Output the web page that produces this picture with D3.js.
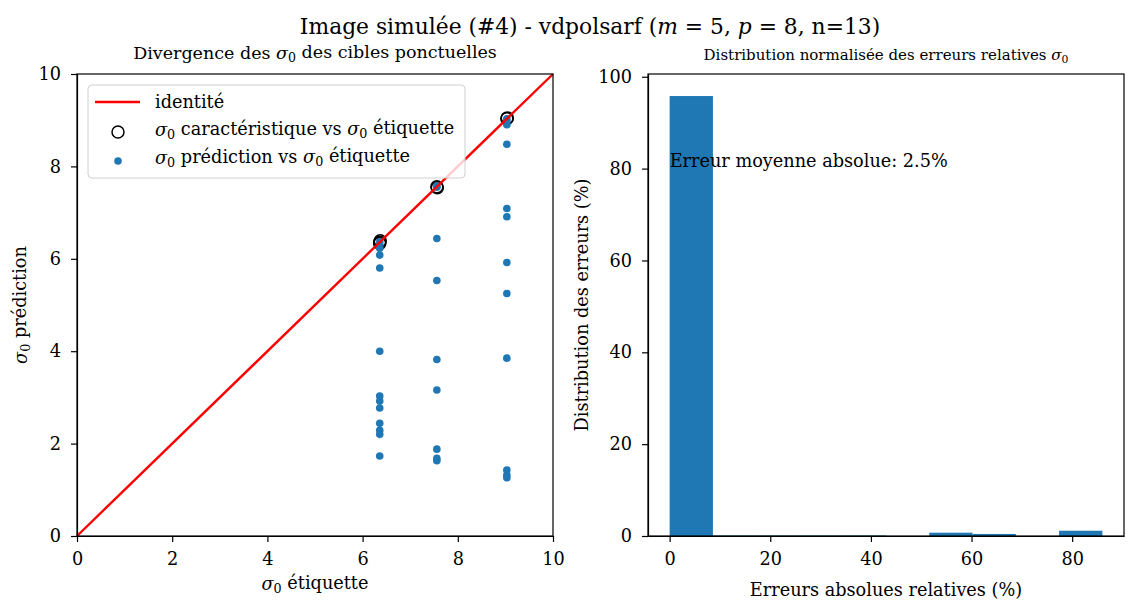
<!DOCTYPE html>
<html>
<head>
<meta charset="utf-8">
<script src="https://cdn.jsdelivr.net/npm/d3@7"></script>
<style>
  body { margin: 0; background: #fff; }
  text { font-family: "DejaVu Serif", "Liberation Serif", serif; fill: #000; }
</style>
</head>
<body>
<div id="chart"></div>
<script>
// donnees
var charX = [6.36, 6.36, 6.37, 7.56, 7.57, 9.03, 9.04];
var charY = [6.36, 6.33, 6.39, 7.56, 7.54, 9.03, 9.05];

var predX = [6.36, 6.36, 6.36, 6.36, 6.36, 6.36, 6.36, 6.36, 6.36, 6.36, 6.36, 6.36, 6.36,
             7.56, 7.56, 7.56, 7.56, 7.56, 7.56, 7.56, 7.56, 7.56,
             9.03, 9.03, 9.03, 9.03, 9.03, 9.03, 9.03, 9.03, 9.03, 9.03, 9.03, 9.03];
var predY = [6.37, 6.30, 6.23, 6.08, 5.80, 4.00, 3.03, 2.92, 2.77, 2.44, 2.29, 2.20, 1.73,
             7.55, 7.58, 6.44, 5.53, 3.82, 3.16, 1.88, 1.68, 1.63,
             9.03, 8.97, 8.90, 8.48, 7.09, 6.91, 5.92, 5.25, 3.85, 1.43, 1.32, 1.26];

var identity = [0, 10];

var binEdges = [0, 8.6, 17.2, 25.8, 34.4, 43, 51.6, 60.2, 68.8, 77.4, 86];
var binVals = [95.8, 0.1, 0.1, 0.1, 0.1, 0, 0.72, 0.45, 0, 1.15];

var leftTicks = [0, 2, 4, 6, 8, 10];
var rightXTicks = [0, 20, 40, 60, 80];
var rightYTicks = [0, 20, 40, 60, 80, 100];

var blue = "#1f77b4";
var fs = 17.7;

var svg = d3.select("#chart")
  .append("svg")
  .attr("width", 1142)
  .attr("height", 614);

// petit utilitaire pour ecrire sigma_0
function sigma(t, trail) {
  t.append("tspan").attr("font-style", "italic").text("σ");
  t.append("tspan").attr("font-size", "0.72em").attr("dy", "0.25em").text("0");
  t.append("tspan").attr("dy", "-0.25em").text(trail === false ? "" : "\u00a0");
}

// titre general
var sup = svg.append("text")
  .attr("x", 590)
  .attr("y", 34)
  .attr("text-anchor", "middle")
  .attr("font-size", 21.8);
sup.append("tspan").text("Image simulée (#4) - vdpolsarf (");
sup.append("tspan").attr("font-style", "italic").text("m");
sup.append("tspan").text(" = 5, ");
sup.append("tspan").attr("font-style", "italic").text("p");
sup.append("tspan").text(" = 8, n=13)");

//------------------ graphique de gauche
var L = { left: 77, right: 553, top: 74, bottom: 536 };

var xL = d3.scaleLinear().domain([0, 10]).range([L.left, L.right]);
var yL = d3.scaleLinear().domain([0, 10]).range([L.bottom, L.top]);

var gl = svg.append("g");

var t1 = gl.append("text")
  .attr("x", (L.left + L.right) / 2)
  .attr("y", 59)
  .attr("text-anchor", "middle")
  .attr("font-size", 17.5);
t1.append("tspan").text("Divergence des ");
sigma(t1);
t1.append("tspan").text("des cibles ponctuelles");

gl.selectAll("circle.char")
  .data(charX)
  .enter()
  .append("circle")
  .attr("class", "char")
  .attr("cx", function(d) { return xL(d); })
  .attr("cy", function(d, i) { return yL(charY[i]); })
  .attr("r", 6)
  .attr("fill", "none")
  .attr("stroke", "#000")
  .attr("stroke-width", 1.5);

gl.selectAll("circle.pred")
  .data(predX)
  .enter()
  .append("circle")
  .attr("class", "pred")
  .attr("cx", function(d) { return xL(d); })
  .attr("cy", function(d, i) { return yL(predY[i]); })
  .attr("r", 3.8)
  .attr("fill", blue);

gl.append("line")
  .attr("x1", xL(identity[0]))
  .attr("y1", yL(identity[0]))
  .attr("x2", xL(identity[1]))
  .attr("y2", yL(identity[1]))
  .attr("stroke", "red")
  .attr("stroke-width", 2.4);

gl.append("g")
  .attr("transform", "translate(0," + L.bottom + ")")
  .call(d3.axisBottom(xL).tickValues(leftTicks).tickSize(6).tickSizeOuter(0).tickPadding(10))
  .call(styleAxis);

gl.append("g")
  .attr("transform", "translate(" + L.left + ",0)")
  .call(d3.axisLeft(yL).tickValues(leftTicks).tickSize(6).tickSizeOuter(0).tickPadding(10))
  .call(styleAxis);

gl.append("rect")
  .attr("x", L.left).attr("y", L.top)
  .attr("width", L.right - L.left).attr("height", L.bottom - L.top)
  .attr("fill", "none").attr("stroke", "#000").attr("stroke-width", 1.2);

var xl1 = gl.append("text")
  .attr("x", (L.left + L.right) / 2)
  .attr("y", 590)
  .attr("text-anchor", "middle")
  .attr("font-size", fs);
sigma(xl1);
xl1.append("tspan").text("étiquette");

var yl1 = gl.append("text")
  .attr("transform", "translate(27," + ((L.top + L.bottom) / 2) + ") rotate(-90)")
  .attr("text-anchor", "middle")
  .attr("font-size", fs);
sigma(yl1);
yl1.append("tspan").text("prédiction");

// legende
var lg = gl.append("g").attr("transform", "translate(88,85)");
lg.append("rect")
  .attr("width", 377).attr("height", 93)
  .attr("rx", 4)
  .attr("fill", "rgba(255,255,255,0.8)")
  .attr("stroke", "#d0d0d0");
lg.append("line")
  .attr("x1", 7).attr("x2", 52).attr("y1", 17).attr("y2", 17)
  .attr("stroke", "red").attr("stroke-width", 2.4);
lg.append("text").attr("x", 67).attr("y", 23).attr("font-size", fs).text("identité");
lg.append("circle")
  .attr("cx", 30).attr("cy", 47).attr("r", 6)
  .attr("fill", "none").attr("stroke", "#000").attr("stroke-width", 1.5);
var lt2 = lg.append("text").attr("x", 67).attr("y", 51).attr("font-size", fs);
sigma(lt2);
lt2.append("tspan").text("caractéristique vs ");
sigma(lt2);
lt2.append("tspan").text("étiquette");
lg.append("circle")
  .attr("cx", 30).attr("cy", 76).attr("r", 3.8)
  .attr("fill", blue);
var lt3 = lg.append("text").attr("x", 67).attr("y", 79).attr("font-size", fs);
sigma(lt3);
lt3.append("tspan").text("prédiction vs ");
sigma(lt3);
lt3.append("tspan").text("étiquette");

//------------------ histogramme de droite
var R = { left: 648, right: 1124, top: 74, bottom: 536 };

var xR = d3.scaleLinear().domain([-4.3, 90.3]).range([R.left, R.right]);
var yR = d3.scaleLinear().domain([0, 100.6]).range([R.bottom, R.top]);

var gr = svg.append("g");

var t2 = gr.append("text")
  .attr("x", (R.left + R.right) / 2)
  .attr("y", 60)
  .attr("text-anchor", "middle")
  .attr("font-size", 15);
t2.append("tspan").text("Distribution normalisée des erreurs relatives ");
sigma(t2, false);

gr.selectAll("rect.bar")
  .data(binVals)
  .enter()
  .append("rect")
  .attr("class", "bar")
  .attr("x", function(d, i) { return xR(binEdges[i]); })
  .attr("y", function(d) { return yR(d); })
  .attr("width", function(d, i) { return xR(binEdges[i + 1]) - xR(binEdges[i]); })
  .attr("height", function(d) { return yR(0) - yR(d); })
  .attr("fill", blue);

gr.append("g")
  .attr("transform", "translate(0," + R.bottom + ")")
  .call(d3.axisBottom(xR).tickValues(rightXTicks).tickSize(6).tickSizeOuter(0).tickPadding(10))
  .call(styleAxis);

gr.append("g")
  .attr("transform", "translate(" + R.left + ",0)")
  .call(d3.axisLeft(yR).tickValues(rightYTicks).tickSize(6).tickSizeOuter(0).tickPadding(10))
  .call(styleAxis);

gr.append("rect")
  .attr("x", R.left).attr("y", R.top)
  .attr("width", R.right - R.left).attr("height", R.bottom - R.top)
  .attr("fill", "none").attr("stroke", "#000").attr("stroke-width", 1.2);

gr.append("text")
  .attr("x", xR(0))
  .attr("y", 167)
  .attr("font-size", fs)
  .text("Erreur moyenne absolue: 2.5%");

gr.append("text")
  .attr("x", (R.left + R.right) / 2)
  .attr("y", 596)
  .attr("text-anchor", "middle")
  .attr("font-size", fs)
  .text("Erreurs absolues relatives (%)");

gr.append("text")
  .attr("transform", "translate(588," + ((R.top + R.bottom) / 2) + ") rotate(-90)")
  .attr("text-anchor", "middle")
  .attr("font-size", fs)
  .text("Distribution des erreurs (%)");

function styleAxis(g) {
  g.select(".domain").attr("stroke", "#000").attr("stroke-width", 1.2);
  g.selectAll(".tick line").attr("stroke", "#000").attr("stroke-width", 1.2);
  g.selectAll(".tick text")
    .attr("font-family", "DejaVu Serif, Liberation Serif, serif")
    .attr("font-size", fs)
    .attr("fill", "#000");
}
</script>
</body>
</html>
